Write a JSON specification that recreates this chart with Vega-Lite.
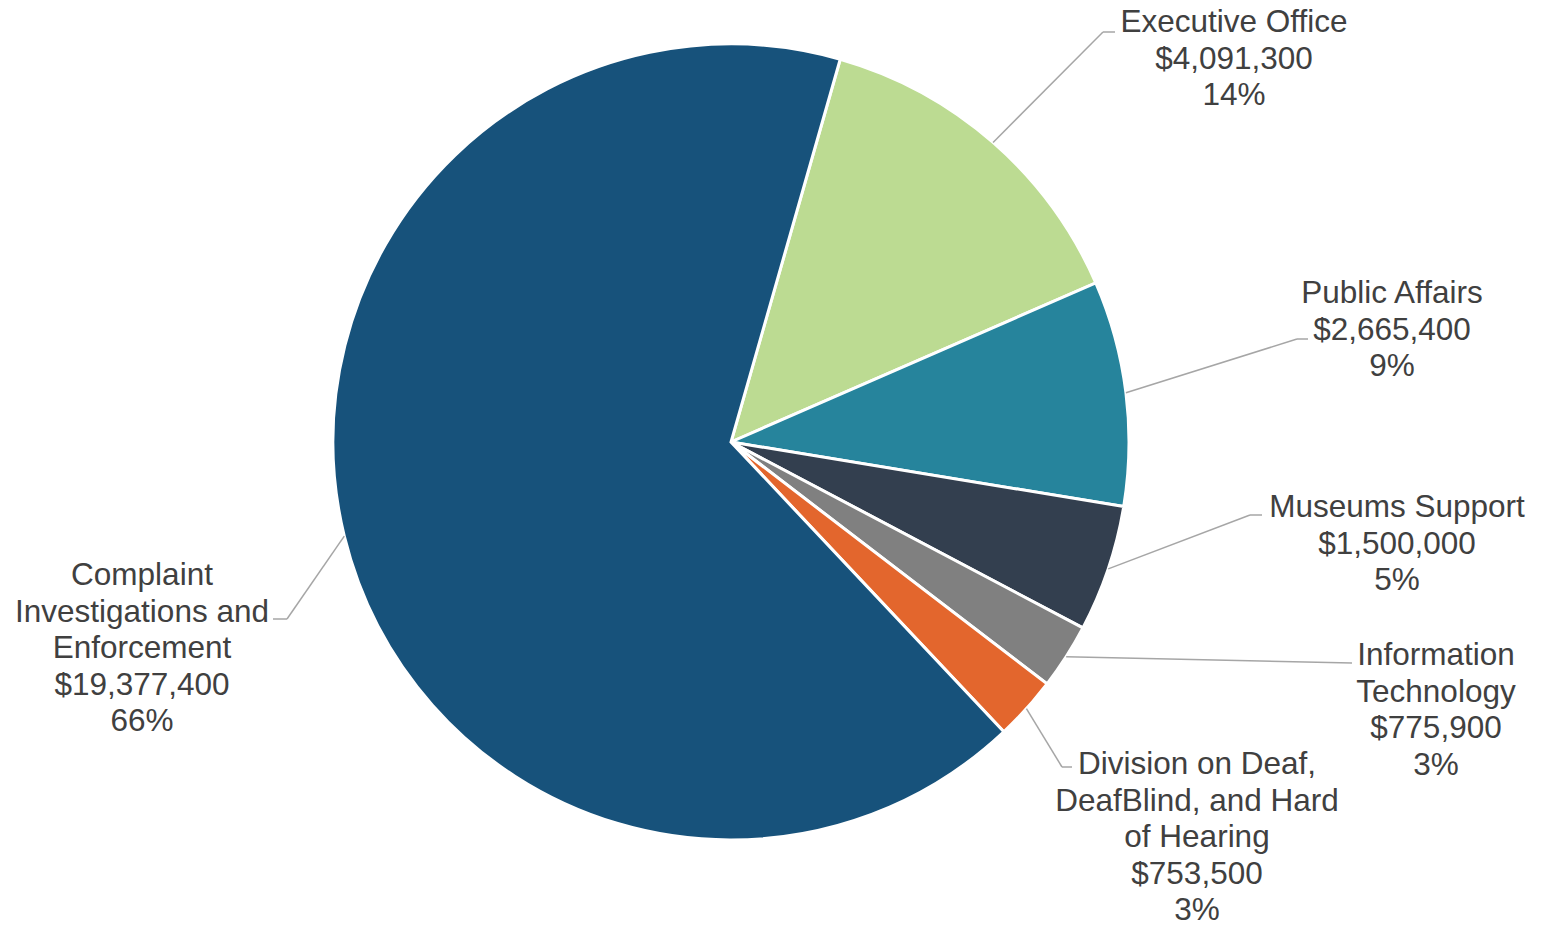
{
  "$schema": "https://vega.github.io/schema/vega-lite/v6.json",
  "autosize": {"type": "none"},
  "width": 1462,
  "height": 884,
  "padding": {"left": 0, "top": 0, "right": 83, "bottom": 42},
  "background": "#ffffff",
  "config": {"view": {"stroke": null}, "text": {"font": "Liberation Sans"}},
  "data": {
    "values": [
      {"order": 0, "name": "Executive Office", "label": "Executive Office", "value": 4091300},
      {"order": 1, "name": "Public Affairs", "label": "Public Affairs", "value": 2665400},
      {"order": 2, "name": "Museums Support", "label": "Museums Support", "value": 1500000},
      {"order": 3, "name": "Information Technology", "label": "Information\nTechnology", "value": 775900},
      {"order": 4, "name": "Division on Deaf, DeafBlind, and Hard of Hearing", "label": "Division on Deaf,\nDeafBlind, and Hard\nof Hearing", "value": 753500},
      {"order": 5, "name": "Complaint Investigations and Enforcement", "label": "Complaint\nInvestigations and\nEnforcement", "value": 19377400}
    ]
  },
  "transform": [
    {"joinaggregate": [{"op": "sum", "field": "value", "as": "total"}]},
    {"window": [{"op": "sum", "field": "value", "as": "cum"}], "sort": [{"field": "order", "order": "ascending"}], "frame": [null, 0]},
    {"calculate": "0.278 + 2 * PI * (datum.cum - datum.value / 2) / datum.total", "as": "mid"},
    {"calculate": "398 * sin(datum.mid)", "as": "sx"},
    {"calculate": "398 * cos(datum.mid)", "as": "sy"},
    {"calculate": "[372, 566, 519, 621, 331, -444][datum.order]", "as": "bx"},
    {"calculate": "[410, 103, -73, -221, -325, -177][datum.order]", "as": "by"},
    {"calculate": "[384, 577, 531, 621, 341, -458][datum.order]", "as": "ex"},
    {"calculate": "[503, 661, 666, 705, 466, -589][datum.order]", "as": "lx"},
    {"calculate": "[410, 139, -75, -223, -332, -143][datum.order]", "as": "ly"},
    {"calculate": "datum.label + '\\n' + format(datum.value, '$,') + '\\n' + format(datum.value / datum.total, '.0%')", "as": "fullLabel"}
  ],
  "layer": [
    {
      "mark": {"type": "arc", "radius": 398, "stroke": "#ffffff", "strokeWidth": 3},
      "encoding": {
        "theta": {"field": "value", "type": "quantitative", "stack": true, "scale": {"range": [0.278, 6.5612]}},
        "order": {"field": "order", "type": "quantitative"},
        "color": {
          "field": "name", "type": "nominal", "legend": null,
          "scale": {
            "domain": ["Executive Office", "Public Affairs", "Museums Support", "Information Technology", "Division on Deaf, DeafBlind, and Hard of Hearing", "Complaint Investigations and Enforcement"],
            "range": ["#BCDB92", "#26849C", "#333F4F", "#808080", "#E3662D", "#17527B"]
          }
        }
      }
    },
    {
      "mark": {"type": "rule", "color": "#A6A6A6", "strokeWidth": 1.5},
      "encoding": {
        "x": {"field": "sx", "type": "quantitative", "axis": null, "scale": {"domain": [-731, 731], "nice": false, "zero": false}},
        "y": {"field": "sy", "type": "quantitative", "axis": null, "scale": {"domain": [-442, 442], "nice": false, "zero": false}},
        "x2": {"field": "bx"},
        "y2": {"field": "by"}
      }
    },
    {
      "mark": {"type": "rule", "color": "#A6A6A6", "strokeWidth": 1.5},
      "encoding": {
        "x": {"field": "bx", "type": "quantitative"},
        "y": {"field": "by", "type": "quantitative"},
        "x2": {"field": "ex"},
        "y2": {"field": "by"}
      }
    },
    {
      "mark": {"type": "text", "fontSize": 31.5, "lineHeight": 36.5, "lineBreak": "\n", "align": "center", "baseline": "alphabetic", "color": "#404040"},
      "encoding": {
        "x": {"field": "lx", "type": "quantitative"},
        "y": {"field": "ly", "type": "quantitative"},
        "text": {"field": "fullLabel"}
      }
    }
  ]
}
